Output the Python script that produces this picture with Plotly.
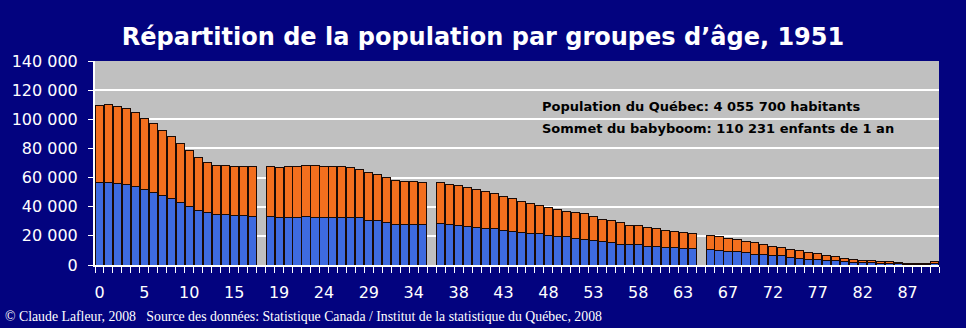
import plotly.graph_objects as go

# ---- data ----
ages = [str(a) for a in range(90)] + ["90+"]
# bottom series (blue)
hommes = [56280, 56500, 55820, 55360, 53990, 51700, 49640, 47580, 45530, 42780,
          40260, 37520, 35920, 35000, 34320, 34090, 33860, 33400, 33400, 32710,
          32710, 32940, 33170, 32940, 32940, 32940, 32940, 32940, 32260, 30650,
          30200, 28830, 27910, 27910, 27910, 27910, 28370, 27680, 27450, 26540,
          26080, 25390, 24710, 24020, 23330, 22420, 21960, 21280, 20590, 19900,
          19220, 18300, 17620, 16930, 16240, 15330, 14410, 13730, 13730, 13040,
          12580, 12350, 11900, 11440, 11440, 10750, 9840, 9610, 9150, 8240,
          7550, 7200, 6860, 6410, 5260, 4800, 4120, 3660, 3200, 2750,
          2290, 2060, 1600, 1400, 1150, 1000, 800, 600, 480, 300, 1000]
# top series (orange)
femmes = [53300, 53731, 53080, 52160, 50790, 48960, 47590, 45070, 42770, 40720,
          38440, 36380, 34310, 33400, 34080, 33610, 33400, 33860, 33860, 34320,
          35010, 34780, 35230, 35460, 34780, 34780, 34780, 34090, 33400, 32950,
          32030, 31340, 30200, 29510, 29510, 28830, 28140, 27910, 27000, 26530,
          25620, 24940, 24250, 22880, 22200, 21500, 20130, 19440, 18760, 18080,
          17840, 17620, 17610, 16570, 15330, 14870, 14420, 13720, 13040, 12810,
          12130, 11670, 11430, 10980, 9840, 9840, 9830, 8690, 8470, 8000,
          8010, 7210, 6180, 5490, 5490, 5040, 4570, 4120, 3430, 3200,
          2510, 2060, 1830, 1570, 1370, 1290, 1030, 770, 660, 390, 1520]
gap_after = ["17", "35", "64"]          # empty columns after these ages
y_tick_values = [0, 20000, 40000, 60000, 80000, 100000, 120000, 140000]
y_tick_labels = ["0", "20 000", "40 000", "60 000", "80 000", "100 000", "120 000", "140 000"]
x_label_every = 5

title = "Répartition de la population par groupes d’âge, 1951"
note1 = "Population du Québec: 4 055 700 habitants"
note2 = "Sommet du babyboom: 110 231 enfants de 1 an"
footer = "© Claude Lafleur, 2008\u00a0\u00a0\u00a0Source des données: Statistique Canada / Institut de la statistique du Québec, 2008"

# ---- build category axis with empty gap columns ----
cats, h, f = [], [], []
ngap = 0
for a, hv, fv in zip(ages, hommes, femmes):
    cats.append(a); h.append(hv); f.append(fv)
    if a in gap_after:
        ngap += 1
        cats.append(" " * ngap); h.append(None); f.append(None)

ticktext = [c if i % x_label_every == 0 else "" for i, c in enumerate(cats)]

NAVY = "#03037f"
BLUE = "#3e6be0"
ORANGE = "#f36f1e"

fig = go.Figure()
fig.add_trace(go.Bar(x=cats, y=h, name="Hommes", marker=dict(color=BLUE, line=dict(color="#1a0a05", width=1))))
fig.add_trace(go.Bar(x=cats, y=f, name="Femmes", marker=dict(color=ORANGE, line=dict(color="#1a0a05", width=1))))

fig.update_layout(
    width=966, height=328,
    barmode="stack", bargap=0.1,
    paper_bgcolor=NAVY, plot_bgcolor="#c0c0c0",
    margin=dict(l=95, r=27, t=61, b=63),
    showlegend=False,
    font=dict(family="DejaVu Sans", color="white"),
    title=dict(text=title, x=0.5, xanchor="center", y=1 - 37 / 328, yanchor="middle",
               font=dict(family="DejaVu Sans", size=24, color="white", weight="bold")),
)
fig.update_xaxes(type="category", categoryorder="array", categoryarray=cats,
                 range=[-0.5, len(cats) - 0.5],
                 tickmode="array", tickvals=cats, ticktext=ticktext,
                 tickson="boundaries", ticks="outside", ticklen=6, tickcolor="white", tickwidth=1,
                 ticklabelstandoff=12,
                 showline=True, linecolor="white", linewidth=2, showgrid=False,
                 tickangle=0, tickfont=dict(size=16, color="white"))
fig.update_yaxes(range=[0, 140000], tickmode="array", tickvals=y_tick_values, ticktext=y_tick_labels,
                 ticks="outside", ticklen=5, tickcolor="white", ticklabelstandoff=7,
                 showline=True, linecolor="white", linewidth=2,
                 showgrid=True, gridcolor="white", gridwidth=2, zeroline=False,
                 tickfont=dict(size=16, color="white"))

fig.add_annotation(text=note1, xref="paper", yref="paper", x=(540 - 95) / 844, y=(265 - 106) / 204,
                   xanchor="left", yanchor="middle", showarrow=False,
                   font=dict(family="DejaVu Sans", size=13, color="black", weight="bold"))
fig.add_annotation(text=note2, xref="paper", yref="paper", x=(540 - 95) / 844, y=(265 - 128) / 204,
                   xanchor="left", yanchor="middle", showarrow=False,
                   font=dict(family="DejaVu Sans", size=13, color="black", weight="bold"))
fig.add_annotation(text=footer, xref="paper", yref="paper", x=(3 - 95) / 844, y=(265 - 316) / 204,
                   xanchor="left", yanchor="middle", showarrow=False,
                   font=dict(family="Liberation Serif", size=13.8, color="white"))

fig.write_html("out.html")
